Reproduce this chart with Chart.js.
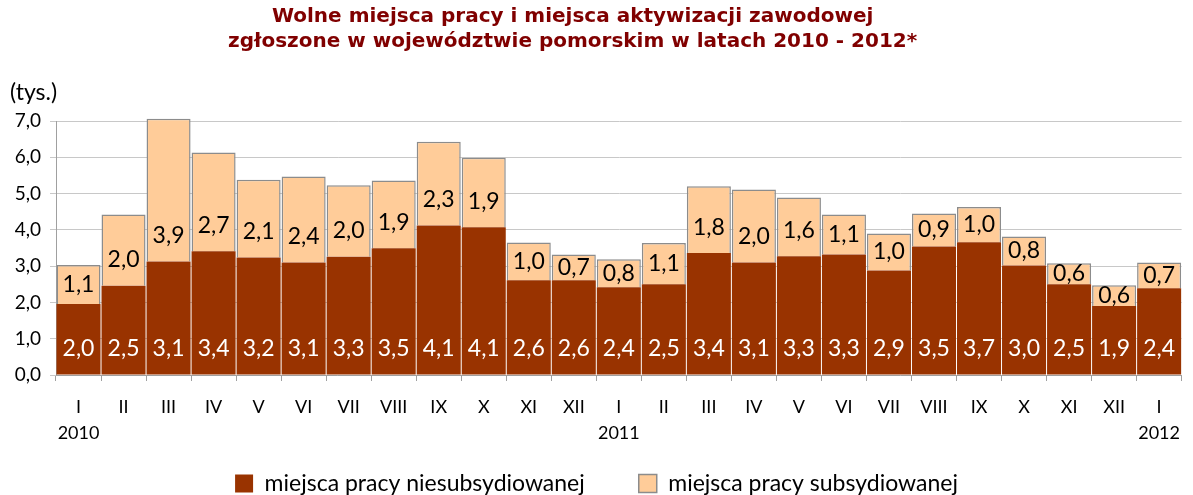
<!DOCTYPE html>
<html>
<head>
<meta charset="utf-8">
<script src="https://cdn.jsdelivr.net/npm/chart.js@4/dist/chart.umd.min.js"></script>
<style>
    html, body { margin: 0; padding: 0; background: #fff; }
    #wrap { width: 1193px; height: 495px; }
</style>
</head>
<body>
<div id="wrap"><canvas id="chart"></canvas></div>
<script>
// chart title (two lines)
var titleLines = ['Wolne miejsca pracy i miejsca aktywizacji zawodowej',
                  'zgłoszone w województwie pomorskim w latach 2010 - 2012*'];
// months on the x axis
var months = ['I', 'II', 'III', 'IV', 'V', 'VI', 'VII', 'VIII', 'IX', 'X', 'XI', 'XII',
              'I', 'II', 'III', 'IV', 'V', 'VI', 'VII', 'VIII', 'IX', 'X', 'XI', 'XII', 'I'];
// year written under the first month of each year
var years = ['2010', '', '', '', '', '', '', '', '', '', '', '',
             '2011', '', '', '', '', '', '', '', '', '', '', '', '2012'];
// miejsca pracy niesubsydiowanej (tys.)
var unsubsidised = [1.96, 2.46, 3.13, 3.41, 3.24, 3.10, 3.26, 3.49, 4.12, 4.07, 2.61, 2.61,
                    2.42, 2.50, 3.36, 3.10, 3.27, 3.32, 2.88, 3.54, 3.66, 3.02, 2.50, 1.90, 2.39];
// miejsca pracy subsydiowanej (tys.)
var subsidised = [1.07, 1.96, 3.93, 2.72, 2.14, 2.37, 1.97, 1.87, 2.31, 1.92, 1.04, 0.71,
                  0.77, 1.14, 1.84, 2.01, 1.62, 1.10, 1.02, 0.91, 0.97, 0.80, 0.58, 0.57, 0.71];
// y axis ticks
var yTicks = [0, 1, 2, 3, 4, 5, 6, 7];

var font = 'Lato, "Liberation Sans", sans-serif';

// number with a comma, like the original
function fmt(v) {
    return v.toFixed(1).replace('.', ',');
}

// plugin that writes the title, the values inside the bars and the unit label
var barLabels = {
    id: 'barLabels',
    afterDatasetsDraw: function(chart) {
        var ctx = chart.ctx;
        ctx.save();
        ctx.font = '23px ' + font;
        ctx.textAlign = 'center';
        ctx.textBaseline = 'middle';
        chart.data.datasets.forEach(function(ds, d) {
            var meta = chart.getDatasetMeta(d);
            ctx.fillStyle = d === 0 ? '#ffffff' : '#000000';
            meta.data.forEach(function(bar, i) {
                var p = bar.getProps(['x', 'y', 'base'], true);
                var cy = Math.max(p.base - 26, (p.base + p.y) / 2);
                ctx.fillText(fmt(ds.data[i]), p.x, cy);
            });
        });
        // title, a bit left of the middle as in the original
        ctx.fillStyle = '#800000';
        ctx.font = 'bold 20px "DejaVu Sans", Verdana, sans-serif';
        titleLines.forEach(function(line, i) {
            ctx.fillText(line, chart.width * 0.48, 17 + i * 25);
        });
        // unit above the y axis
        ctx.textAlign = 'left';
        ctx.fillStyle = '#000000';
        ctx.font = '23px ' + font;
        ctx.fillText('(tys.)', 10, chart.chartArea.top - 28);
        ctx.restore();
    }
};

var ctx = document.getElementById('chart').getContext('2d');
var chart = new Chart(ctx, {
    type: 'bar',
    data: {
        labels: months.map(function(m, i) { return [m, years[i]]; }),
        datasets: [{
            label: 'miejsca pracy niesubsydiowanej',
            data: unsubsidised,
            backgroundColor: '#993300',
            borderWidth: 0,
            categoryPercentage: 1,
            barPercentage: 0.978
        }, {
            label: 'miejsca pracy subsydiowanej',
            data: subsidised,
            backgroundColor: '#ffcc99',
            borderColor: '#8c8c8c',
            borderWidth: 1.5,
            categoryPercentage: 1,
            barPercentage: 0.978
        }]
    },
    options: {
        responsive: true,
        maintainAspectRatio: false,
        animation: false,
        layout: { padding: { top: 121, bottom: -10 } },
        datasets: { bar: { clip: false } },
        scales: {
            x: {
                stacked: true,
                grid: {
                    drawOnChartArea: false,
                    tickLength: 6,
                    color: '#a0a0a0'
                },
                border: { color: '#a0a0a0' },
                ticks: {
                    color: '#000',
                    padding: 13,
                    maxRotation: 0,
                    autoSkip: false,
                    font: { family: font, size: 18, lineHeight: 1.45 }
                },
                afterFit: function(scale) {
                    scale.height = 130 - scale.chart.legend.height;
                }
            },
            y: {
                stacked: true,
                min: 0,
                max: 7,
                afterBuildTicks: function(scale) {
                    scale.ticks = yTicks.map(function(v) { return { value: v }; });
                },
                grid: {
                    color: '#c8c8c8',
                    tickLength: 6
                },
                border: { color: '#a0a0a0' },
                ticks: {
                    color: '#000',
                    padding: 9,
                    font: { family: font, size: 19 },
                    callback: function(v) { return fmt(v); }
                },
                afterFit: function(scale) {
                    scale.width = 56;
                }
            }
        },
        plugins: {
            title: { display: false },
            legend: {
                position: 'bottom',
                labels: {
                    color: '#000',
                    boxWidth: 18,
                    boxHeight: 18,
                    padding: 1,
                    font: { family: font, size: 23 },
                    generateLabels: function(chart) {
                        var items = Chart.defaults.plugins.legend.labels.generateLabels(chart);
                        items[0].text = items[0].text + '         ';
                        return items;
                    }
                }
            },
            tooltip: { enabled: false }
        }
    },
    plugins: [barLabels]
});
</script>
</body>
</html>
